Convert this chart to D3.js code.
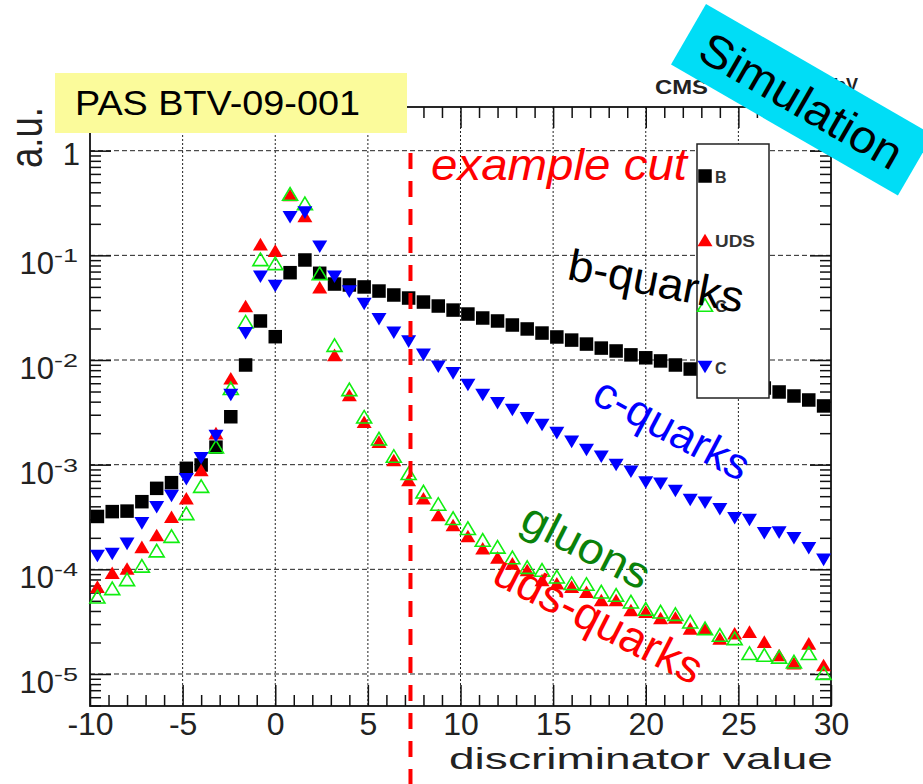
<!DOCTYPE html>
<html>
<head>
<meta charset="utf-8">
<script src="https://cdn.jsdelivr.net/npm/d3@7"></script>
<style>
  html, body { margin: 0; padding: 0; background: #fff; }
  svg { display: block; font-family: "Liberation Sans", Arial, Helvetica, sans-serif; }
</style>
</head>
<body>
<svg id="chart" width="923" height="784"></svg>
<script>
// Bin centres of the discriminator histogram (bin width 0.8)
const binCenters = [-9.6, -8.8, -8.0, -7.2, -6.4, -5.6, -4.8, -4.0, -3.2, -2.4,
  -1.6, -0.8, 0.0, 0.8, 1.6, 2.4, 3.2, 4.0, 4.8, 5.6,
  6.4, 7.2, 8.0, 8.8, 9.6, 10.4, 11.2, 12.0, 12.8, 13.6,
  14.4, 15.2, 16.0, 16.8, 17.6, 18.4, 19.2, 20.0, 20.8, 21.6,
  22.4, 23.2, 24.0, 24.8, 25.6, 26.4, 27.2, 28.0, 28.8, 29.6];

// Normalised entries per bin, one array per jet flavour
const bQuarks = [3.2e-4, 3.56e-4, 3.6e-4, 4.43e-4, 5.94e-4, 6.73e-4, 9.23e-4, 9.93e-4, 1.47e-3, 2.87e-3,
  8.96e-3, 2.36e-2, 1.67e-2, 6.83e-2, 9.03e-2, 6.74e-2, 5.32e-2, 5.21e-2, 4.99e-2, 4.56e-2,
  4.18e-2, 3.91e-2, 3.58e-2, 3.28e-2, 3.0e-2, 2.75e-2, 2.52e-2, 2.36e-2, 2.16e-2, 1.98e-2,
  1.81e-2, 1.66e-2, 1.55e-2, 1.42e-2, 1.30e-2, 1.22e-2, 1.12e-2, 1.05e-2, 9.8e-3, 8.96e-3,
  8.2e-3, 7.69e-3, 7.04e-3, 6.44e-3, 5.9e-3, 5.4e-3, 4.95e-3, 4.53e-3, 4.15e-3, 3.64e-3];

const cQuarks = [1.34e-4, 1.40e-4, 1.75e-4, 2.75e-4, 3.92e-4, 5.02e-4, 7.25e-4, 1.15e-3, 1.88e-3, 4.63e-3,
  1.80e-2, 6.25e-2, 5.1e-2, 0.231, 0.256, 0.121, 6.25e-2, 4.5e-2, 3.43e-2, 2.45e-2,
  1.82e-2, 1.50e-2, 1.12e-2, 8.63e-3, 7.46e-3, 5.77e-3, 4.63e-3, 3.86e-3, 3.33e-3, 2.77e-3,
  2.39e-3, 2.0e-3, 1.65e-3, 1.38e-3, 1.19e-3, 9.93e-4, 8.57e-4, 6.76e-4, 6.58e-4, 5.61e-4,
  4.6e-4, 4.33e-4, 3.75e-4, 3.08e-4, 2.96e-4, 2.21e-4, 2.24e-4, 1.98e-4, 1.59e-4, 1.23e-4];

const udsQuarks = [6.83e-5, 9.29e-5, 1.02e-4, 1.64e-4, 2.13e-4, 3.18e-4, 4.77e-4, 8.9e-4, 2.0e-3, 6.69e-3,
  3.28e-2, 0.128, 0.111, 0.377, 0.238, 4.95e-2, 1.12e-2, 4.63e-3, 2.57e-3, 1.66e-3,
  1.11e-3, 7.14e-4, 4.77e-4, 3.30e-4, 2.65e-4, 2.08e-4, 1.59e-4, 1.30e-4, 1.14e-4, 9.86e-5,
  7.91e-5, 7.36e-5, 6.83e-5, 6.11e-5, 5.09e-5, 5.09e-5, 4.09e-5, 3.94e-5, 3.43e-5, 3.47e-5,
  2.73e-5, 2.73e-5, 2.19e-5, 2.45e-5, 2.54e-5, 2.04e-5, 1.52e-5, 1.27e-5, 1.96e-5, 1.22e-5];

const gluons = [5.48e-5, 6.59e-5, 8.03e-5, 1.08e-4, 1.51e-4, 2.08e-4, 3.43e-4, 6.25e-4, 1.49e-3, 5.37e-3,
  2.32e-2, 9.17e-2, 8.39e-2, 0.386, 0.314, 6.74e-2, 1.39e-2, 5.25e-3, 2.87e-3, 1.77e-3,
  1.21e-3, 8.28e-4, 5.52e-4, 4.21e-4, 3.08e-4, 2.47e-4, 1.91e-4, 1.64e-4, 1.30e-4, 1.05e-4,
  9.86e-5, 8.51e-5, 7.36e-5, 7.24e-5, 6.11e-5, 5.69e-5, 4.91e-5, 4.18e-5, 3.94e-5, 3.74e-5,
  3.16e-5, 2.73e-5, 2.36e-5, 2.19e-5, 1.58e-5, 1.52e-5, 1.46e-5, 1.31e-5, 1.58e-5, 1.02e-5];

// Axis ticks
const xMajorTicks = [-10, -5, 0, 5, 10, 15, 20, 25, 30];
const xTickLabels = ["-10", "-5", "0", "5", "10", "15", "20", "25", "30"];
const yDecades = [1e-5, 1e-4, 1e-3, 1e-2, 1e-1, 1];
const yExponents = ["-5", "-4", "-3", "-2", "-1", ""];
const legendLabels = ["B", "UDS", "G", "C"];
const cutValue = 7.3;

// ---------------------------------------------------------------
const svg = d3.select("#chart");
const FL = 90, FR = 831, FT = 107, FB = 706;

const x = d3.scaleLinear().domain([-10, 30]).range([FL, FR]);
const y = d3.scaleLog().domain([4.945e-6, 2.615]).range([FB, FT]);

const xMinor = d3.range(-10, 31, 1).filter(v => v % 5 !== 0);
const yMinor = [];
for (let k = -6; k <= 0; k++) for (let m = 2; m <= 9; m++) {
  const v = m * Math.pow(10, k);
  if (v > y.domain()[0] && v < y.domain()[1]) yMinor.push(v);
}

// grid
const grid = svg.append("g");
grid.selectAll("line.h").data(yDecades).join("line")
  .attr("x1", FL).attr("x2", FR)
  .attr("y1", d => y(d)).attr("y2", d => y(d))
  .attr("stroke", "#222").attr("stroke-width", 1).attr("stroke-dasharray", "5,3");
grid.selectAll("line.v").data(xMajorTicks.filter(d => d > -10 && d < 30)).join("line")
  .attr("x1", d => x(d)).attr("x2", d => x(d))
  .attr("y1", FT).attr("y2", FB)
  .attr("stroke", "#222").attr("stroke-width", 1).attr("stroke-dasharray", "2,2");

// axes with inward ticks on all four sides
function styleAxis(g) {
  g.select(".domain").remove();
  g.selectAll(".tick line").attr("stroke", "#111").attr("stroke-width", 1.5);
}
svg.append("g").attr("transform", `translate(0,${FB})`)
  .call(d3.axisBottom(x).tickValues(xMinor).tickSize(-11).tickFormat("")).call(styleAxis);
const xAxisMajor = svg.append("g").attr("transform", `translate(0,${FB})`)
  .call(d3.axisBottom(x).tickValues(xMajorTicks).tickSize(-21).tickPadding(6)
    .tickFormat((d, i) => xTickLabels[i])).call(styleAxis);
xAxisMajor.selectAll("text").attr("font-size", 32).attr("fill", "#222")
  .attr("font-family", "Liberation Sans, Arial, sans-serif");

svg.append("g").attr("transform", `translate(0,${FT})`)
  .call(d3.axisTop(x).tickValues(xMinor).tickSize(-11).tickFormat("")).call(styleAxis);
svg.append("g").attr("transform", `translate(0,${FT})`)
  .call(d3.axisTop(x).tickValues(xMajorTicks).tickSize(-21).tickFormat("")).call(styleAxis);

svg.append("g").attr("transform", `translate(${FL},0)`)
  .call(d3.axisLeft(y).tickValues(yMinor).tickSize(-11).tickFormat("")).call(styleAxis);
svg.append("g").attr("transform", `translate(${FL},0)`)
  .call(d3.axisLeft(y).tickValues(yDecades).tickSize(-21).tickFormat("")).call(styleAxis);
svg.append("g").attr("transform", `translate(${FR},0)`)
  .call(d3.axisRight(y).tickValues(yMinor).tickSize(-11).tickFormat("")).call(styleAxis);
svg.append("g").attr("transform", `translate(${FR},0)`)
  .call(d3.axisRight(y).tickValues(yDecades).tickSize(-21).tickFormat("")).call(styleAxis);

// y tick labels as powers of ten
const yLab = svg.append("g").attr("fill", "#222");
yDecades.forEach((d, i) => {
  const ty = y(d);
  if (yExponents[i] === "") {
    yLab.append("text").attr("x", 80).attr("y", ty + 14).attr("text-anchor", "end")
      .attr("font-size", 31).text("1");
  } else {
    yLab.append("text").attr("x", 54).attr("y", ty + 19).attr("text-anchor", "end")
      .attr("font-size", 31).text("10");
    yLab.append("text").attr("x", 54).attr("y", ty + 7).attr("font-size", 19)
      .attr("textLength", 24).attr("lengthAdjust", "spacingAndGlyphs").text(yExponents[i]);
  }
});

// frame
svg.append("rect").attr("x", FL).attr("y", FT).attr("width", FR - FL).attr("height", FB - FT)
  .attr("fill", "none").attr("stroke", "#111").attr("stroke-width", 1.8);

// axis titles
svg.append("text").attr("x", 833).attr("y", 769).attr("text-anchor", "end")
  .attr("font-size", 29).attr("fill", "#222")
  .attr("textLength", 384).attr("lengthAdjust", "spacingAndGlyphs")
  .text("discriminator value");
svg.append("text").attr("transform", "translate(41.5,107) scale(1.24,1) rotate(-90)")
  .attr("text-anchor", "end").attr("font-size", 36.6).attr("fill", "#222")
  .text("a.u.");

// marker shapes
const SQ = 13.5, TW = 7.5, TH = 6.3;
const shapes = {
  square: (cx, cy) => `M${cx - SQ / 2},${cy - SQ / 2}h${SQ}v${SQ}h${-SQ}Z`,
  up: (cx, cy) => `M${cx - TW},${cy + TH}L${cx + TW},${cy + TH}L${cx},${cy - TH}Z`,
  down: (cx, cy) => `M${cx - TW},${cy - TH}L${cx + TW},${cy - TH}L${cx},${cy + TH}Z`
};

const series = [
  { name: "B", values: bQuarks, shape: "square", fill: "#000", stroke: "none" },
  { name: "UDS", values: udsQuarks, shape: "up", fill: "#ff0000", stroke: "none" },
  { name: "G", values: gluons, shape: "up", fill: "none", stroke: "#11ee11" },
  { name: "C", values: cQuarks, shape: "down", fill: "#0000ff", stroke: "none" }
];

const plot = svg.append("g");
series.forEach(s => {
  plot.append("g").selectAll("path")
    .data(binCenters.map((c, i) => ({ x: c, v: s.values[i] })))
    .join("path")
    .attr("d", d => shapes[s.shape](x(d.x), y(d.v)))
    .attr("fill", s.fill)
    .attr("stroke", s.stroke)
    .attr("stroke-width", s.stroke === "none" ? 0 : 1.6);
});

// example cut line
svg.append("line").attr("x1", x(cutValue)).attr("x2", x(cutValue))
  .attr("y1", 153).attr("y2", 784)
  .attr("stroke", "#ff0000").attr("stroke-width", 4).attr("stroke-dasharray", "16,12");
svg.append("text").attr("x", 431).attr("y", 180).attr("font-size", 44)
  .attr("font-style", "italic").attr("fill", "#ff0000")
  .attr("textLength", 256).attr("lengthAdjust", "spacingAndGlyphs")
  .text("example cut");

// legend
const leg = svg.append("g");
leg.append("rect").attr("x", 697).attr("y", 144).attr("width", 72).attr("height", 254)
  .attr("fill", "#fff").attr("stroke", "#222").attr("stroke-width", 1.5);
const legY = [176, 240, 305, 367];
series.forEach((s, i) => {
  leg.append("path").attr("d", shapes[s.shape](705, legY[i]))
    .attr("fill", s.fill).attr("stroke", s.stroke)
    .attr("stroke-width", s.stroke === "none" ? 0 : 1.6);
  const t = leg.append("text").attr("x", 715).attr("y", legY[i] + 7)
    .attr("font-size", 16).attr("font-weight", "bold").attr("fill", "#333")
    .text(legendLabels[i]);
  if (legendLabels[i].length > 1) t.attr("textLength", 40).attr("lengthAdjust", "spacingAndGlyphs");
});

// flavour labels
const labels = [
  { text: "b-quarks", x: 566, y: 279, angle: 11, size: 44, color: "#000", len: 178 },
  { text: "c-quarks", x: 590, y: 402, angle: 28, size: 44, color: "#0000ff", len: 170 },
  { text: "gluons", x: 518, y: 528, angle: 27, size: 44, color: "#0a820a", len: 138 },
  { text: "uds-quarks", x: 490, y: 582, angle: 27, size: 46, color: "#ff0000", len: 228 }
];
labels.forEach(l => {
  svg.append("text")
    .attr("transform", `translate(${l.x},${l.y}) rotate(${l.angle})`)
    .attr("font-size", l.size).attr("fill", l.color)
    .attr("textLength", l.len).attr("lengthAdjust", "spacingAndGlyphs")
    .text(l.text);
});

// document tag
svg.append("rect").attr("x", 55).attr("y", 73).attr("width", 352).attr("height", 60)
  .attr("fill", "#fbfb9b");
svg.append("text").attr("x", 75).attr("y", 115).attr("font-size", 35).attr("fill", "#000")
  .attr("textLength", 285).attr("lengthAdjust", "spacingAndGlyphs")
  .text("PAS BTV-09-001");

// header
svg.append("text").attr("x", 655).attr("y", 94).attr("font-size", 20)
  .attr("font-weight", "bold").attr("fill", "#222")
  .attr("textLength", 53).attr("lengthAdjust", "spacingAndGlyphs").text("CMS");
svg.append("text").attr("x", 858).attr("y", 91).attr("text-anchor", "end").attr("font-size", 18)
  .attr("font-weight", "bold").attr("fill", "#222").text("TeV");

// simulation banner
const band = svg.append("g").attr("transform", "translate(706,4) rotate(30)");
band.append("rect").attr("x", 0).attr("y", 0).attr("width", 262).attr("height", 70)
  .attr("fill", "#00ddf6");
band.append("text").attr("x", 131).attr("y", 52).attr("text-anchor", "middle")
  .attr("font-size", 46).attr("fill", "#000")
  .attr("textLength", 226).attr("lengthAdjust", "spacingAndGlyphs")
  .text("Simulation");
</script>
</body>
</html>
